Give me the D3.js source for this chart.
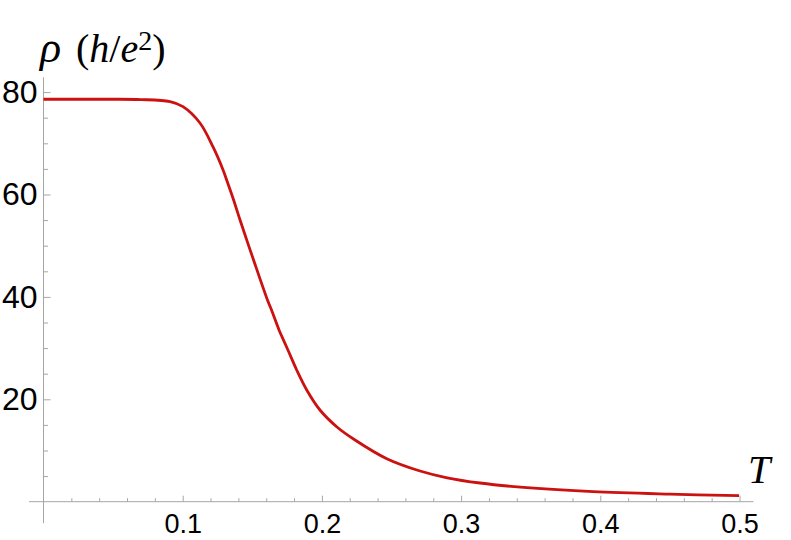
<!DOCTYPE html>
<html>
<head>
<meta charset="utf-8">
<script src="https://cdn.jsdelivr.net/npm/d3@7"></script>
<style>
  html, body { margin: 0; padding: 0; background: #fff; }
  svg { display: block; }
</style>
</head>
<body>
<svg id="chart" width="791" height="540"></svg>
<script>
// ---- data ----
const temperature = [0, 0.04, 0.07, 0.0909, 0.1002, 0.1124, 0.1218, 0.1290, 0.1316, 0.1361, 0.1412, 0.1509, 0.1609, 0.1638, 0.1692, 0.1713, 0.1756, 0.1819, 0.1891, 0.1986, 0.2106, 0.2238, 0.2466, 0.2705, 0.29, 0.3136, 0.3473, 0.3948, 0.45, 0.4997];
const resistivity = [78.6, 78.6, 78.55, 78.13, 77.15, 73.96, 69.28, 64.79, 62.83, 59.32, 55.02, 47.21, 39.39, 37.44, 33.54, 32.23, 29.63, 25.72, 21.82, 17.91, 14.65, 12.05, 8.4, 6.0, 4.67, 3.65, 2.73, 1.95, 1.47, 1.17];
const xMajorTicks = [0.1, 0.2, 0.3, 0.4, 0.5];
const xMinorTicks = [0.02, 0.04, 0.06, 0.08, 0.12, 0.14, 0.16, 0.18, 0.22, 0.24, 0.26, 0.28, 0.32, 0.34, 0.36, 0.38, 0.42, 0.44, 0.46, 0.48];
const yMajorTicks = [20, 40, 60, 80];
const yMinorTicks = [5, 10, 15, 25, 30, 35, 45, 50, 55, 65, 70, 75];
const yLabel = "ρ";
const xLabel = "T";

const svg = d3.select("#chart");

const x = d3.scaleLinear().domain([0, 0.5]).range([43.5, 739.5]);
const y = d3.scaleLinear().domain([0, 80]).range([501.7, 92.1]);

const axisColor = "#a6a6a6";
const sans = "'Liberation Sans', Arial, sans-serif";
const serif = "'Liberation Serif', 'Times New Roman', serif";

// axis lines (extend slightly beyond the plotted range like the reference)
svg.append("line")
  .attr("x1", x(-0.0104)).attr("x2", x(0.51))
  .attr("y1", y(0)).attr("y2", y(0))
  .attr("stroke", axisColor).attr("stroke-width", 1);
svg.append("line")
  .attr("x1", x(0)).attr("x2", x(0))
  .attr("y1", y(82.9)).attr("y2", y(-4.2))
  .attr("stroke", axisColor).attr("stroke-width", 1);

function styleAxis(g) {
  g.select(".domain").remove();
  g.selectAll(".tick line").attr("stroke", axisColor);
}

// x axis ticks
svg.append("g")
  .attr("transform", `translate(0,${y(0)})`)
  .call(d3.axisBottom(x).tickValues(xMinorTicks).tickSize(-3.5).tickFormat(""))
  .call(styleAxis);
const gx = svg.append("g")
  .attr("transform", `translate(0,${y(0)})`)
  .call(d3.axisBottom(x).tickValues(xMajorTicks).tickSize(-6).tickPadding(12).tickFormat(d3.format(".1f")))
  .call(styleAxis);
gx.selectAll(".tick text")
  .attr("fill", "#000")
  .style("font-family", sans)
  .style("font-size", "27px");

// y axis ticks
svg.append("g")
  .attr("transform", `translate(${x(0)},0)`)
  .call(d3.axisLeft(y).tickValues(yMinorTicks).tickSize(-4.5).tickFormat(""))
  .call(styleAxis);
const gy = svg.append("g")
  .attr("transform", `translate(${x(0)},0)`)
  .call(d3.axisLeft(y).tickValues(yMajorTicks).tickSize(-7).tickPadding(6).tickFormat(d3.format("d")))
  .call(styleAxis);
gy.selectAll(".tick text")
  .attr("fill", "#000")
  .style("font-family", sans)
  .style("font-size", "32px");

// curve
const pts = temperature.map((t, i) => [t, resistivity[i]]);
svg.append("path")
  .datum(pts)
  .attr("fill", "none")
  .attr("stroke", "#cc1111")
  .attr("stroke-width", 2.8)
  .attr("stroke-linejoin", "round")
  .attr("d", d3.line().x(d => x(d[0])).y(d => y(d[1])).curve(d3.curveCatmullRom.alpha(0.5)));

// y axis title: ρ (h/e²)
svg.append("text")
  .attr("x", 40).attr("y", 62)
  .style("font-family", serif).style("font-size", "44px").style("font-style", "italic")
  .text(yLabel);
const t2 = svg.append("text")
  .attr("x", 76).attr("y", 62)
  .style("font-family", serif).style("font-size", "40px");
t2.append("tspan").text("(");
t2.append("tspan").style("font-style", "italic").text("h");
t2.append("tspan").text("/");
t2.append("tspan").style("font-style", "italic").text("e");
t2.append("tspan").attr("dy", -12).style("font-size", "28px").text("2");
t2.append("tspan").attr("dy", 12).text(")");

// x axis title
svg.append("text")
  .attr("x", 748).attr("y", 483)
  .style("font-family", serif).style("font-size", "40px").style("font-style", "italic")
  .text(xLabel);
</script>
</body>
</html>
